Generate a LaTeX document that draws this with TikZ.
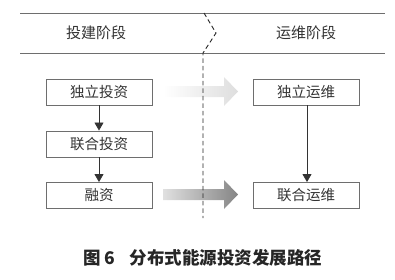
\documentclass[tikz,border=0pt]{standalone}
\usepackage{fontspec}
\newfontfamily\cjk{Noto Sans CJK SC}
\usepackage{tikz}
\usetikzlibrary{arrows.meta, positioning}
\definecolor{linegray}{HTML}{6E6E6E}
\definecolor{textgray}{HTML}{333333}

\begin{document}
\begin{tikzpicture}[x=1pt, y=-1pt,
      stage/.style={font=\cjk\fontsize{15}{15}\selectfont, text=textgray},
      box/.style={draw=linegray, line width=0.9pt, minimum width=106pt, minimum height=26pt,
                  inner sep=0pt, font=\cjk\fontsize{14.5}{15}\selectfont, text=textgray},
      arrow/.style={-{Triangle[length=8pt, width=9pt]}, line width=0.8pt, black!80},
      divider/.style={black!85, line width=0.9pt, dash pattern=on 4.5pt off 3pt}
    ]
      \useasboundingbox (0,0) rectangle (395,279);
      % stage header
      \draw[linegray, line width=0.9pt] (20,13) -- (385,13);
      \draw[linegray, line width=0.9pt] (20,53) -- (385,53);
      \node[stage] (build) at (96,33) {投建阶段};
      \node[stage] (run) at (306,33) {运维阶段};
      % boxes
      \node[box] (solo) at (99,92) {独立投资};
      \node[box] (joint) at (99,144) {联合投资};
      \node[box] (fund) at (99,195.5) {融资};
      \node[box] (soloop) at (306,92) {独立运维};
      \node[box] (jointop) at (306,195.5) {联合运维};
      \draw[arrow] (solo) -- (joint);
      \draw[arrow] (joint) -- (fund);
      \draw[arrow] ([xshift=1pt]soloop.south) -- ([xshift=1pt]jointop.north);
      % wide arrows between stages
      \shade[left color=white, right color=black!13]
        (163,86) -- (224,86) -- (224,77) -- (238,91.5) -- (224,106) -- (224,97) -- (163,97) -- cycle;
      \shade[left color=black!12, right color=black!48]
        (163,189) -- (224,189) -- (224,180) -- (238,194.5) -- (224,209) -- (224,200) -- (163,200) -- cycle;
      % stage divider
      \coordinate (top) at (204,13);
      \coordinate (kink) at (216,33);
      \coordinate (bend) at (203,53);
      \coordinate (foot) at (203,218);
      \draw[divider] (top) -- (kink) -- (bend) -- (foot);
      % caption
      \node[font=\cjk\bfseries\fontsize{17.5}{18}\selectfont, text=black!85] (caption) at (203,258)
        {图\,6\hspace{15pt}分布式能源投资发展路径};
    \end{tikzpicture}
\end{document}
